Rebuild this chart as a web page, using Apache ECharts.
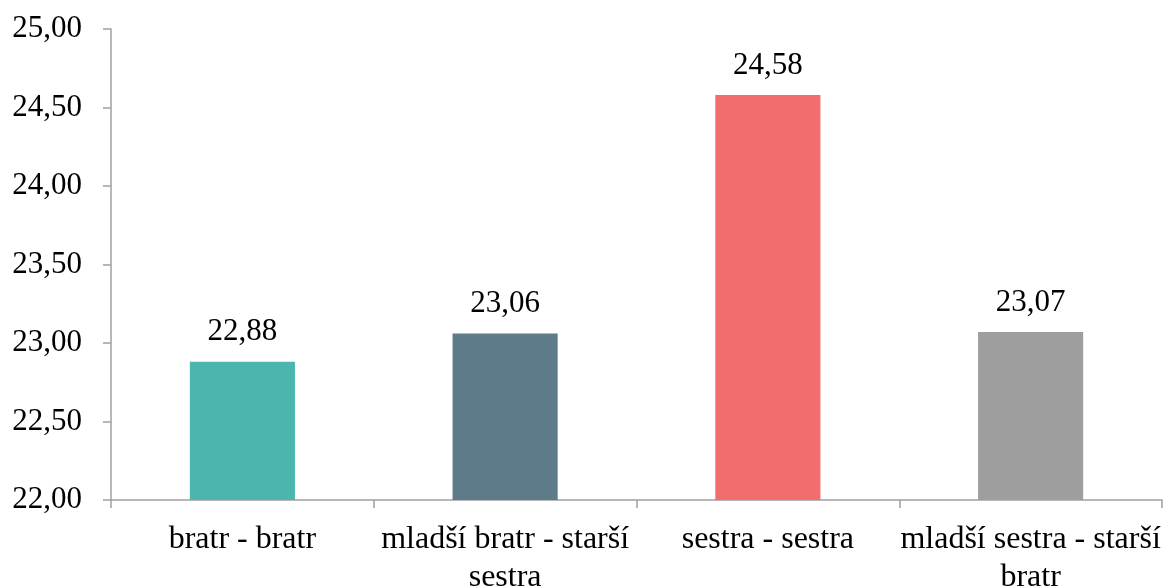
<!DOCTYPE html>
<html>
<head>
<meta charset="utf-8">
<script src="https://cdn.jsdelivr.net/npm/echarts@6/dist/echarts.min.js"></script>
<style>
  html, body { margin: 0; padding: 0; background: #fff; }
  #chart { width: 1164px; height: 586px; }
</style>
</head>
<body>
<div id="chart"></div>
<script>
const categories = [
  'bratr - bratr',
  'mladší bratr - starší\nsestra',
  'sestra - sestra',
  'mladší sestra - starší\nbratr'
];
const values = [22.88, 23.06, 24.58, 23.07];
const barColors = ['#4bb5ae', '#5e7b8a', '#f26d6d', '#9e9e9e'];

const FONT = "'Liberation Serif', 'Times New Roman', serif";
const fmt = v => v.toFixed(2).replace('.', ',');

const chart = echarts.init(document.getElementById('chart'));
chart.setOption({
  animation: false,
  textStyle: { fontFamily: FONT, color: '#000' },
  grid: { left: 111, right: 2, top: 29, bottom: 86, outerBoundsMode: 'none', containLabel: false },
  xAxis: {
    type: 'category',
    data: categories,
    axisLine: { lineStyle: { color: '#a0a0a0', width: 1.5 } },
    axisTick: { show: true, length: 8, lineStyle: { color: '#a0a0a0', width: 1.5 } },
    axisLabel: { fontFamily: FONT, fontSize: 32, color: '#000', margin: 21, lineHeight: 38, interval: 0 }
  },
  yAxis: {
    type: 'value',
    min: 22,
    max: 25,
    interval: 0.5,
    axisLine: { show: true, lineStyle: { color: '#a0a0a0', width: 1.5 } },
    axisTick: { show: true, length: 8, lineStyle: { color: '#a0a0a0', width: 1.5 } },
    splitLine: { show: false },
    axisLabel: { fontFamily: FONT, fontSize: 31, color: '#000', margin: 29, formatter: fmt }
  },
  series: [{
    type: 'bar',
    barWidth: '40%',
    data: values.map((v, i) => ({ value: v, itemStyle: { color: barColors[i] } })),
    label: {
      show: true,
      position: 'top',
      distance: 14,
      fontFamily: FONT,
      fontSize: 31,
      color: '#000',
      formatter: p => fmt(p.value)
    }
  }]
});
</script>
</body>
</html>
